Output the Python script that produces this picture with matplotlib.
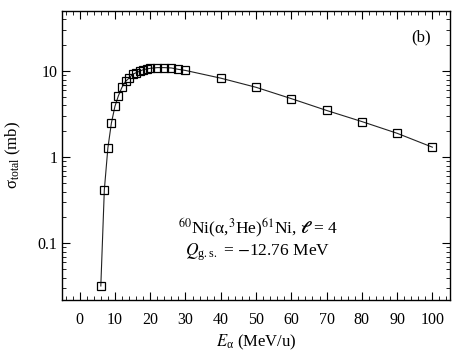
import numpy as np
import matplotlib
matplotlib.use("Agg")
import matplotlib.pyplot as plt
from matplotlib.ticker import LogLocator, MultipleLocator, FixedFormatter, FixedLocator

plt.rcParams['font.family'] = ['Liberation Serif', 'DejaVu Serif']
plt.rcParams['mathtext.fontset'] = 'stix'

energy = [6, 7, 8, 9, 10, 11, 12, 13, 14, 15, 16, 17, 18, 19, 20,
          22, 24, 26, 28, 30, 40, 50, 60, 70, 80, 90, 100]
sigma = [0.032, 0.42, 1.28, 2.5, 3.9, 5.2, 6.5, 7.6, 8.3, 9.2, 9.6, 10.0, 10.4, 10.6, 10.8,
         11.0, 11.0, 10.9, 10.5, 10.2, 8.3, 6.5, 4.8, 3.5, 2.6, 1.9, 1.31]
x_ticks = [0, 10, 20, 30, 40, 50, 60, 70, 80, 90, 100]
y_ticks = [0.1, 1, 10]
y_tick_labels = ['0.1', '1', '10']

fig = plt.figure(figsize=(4.57, 3.62), dpi=100)
ax = fig.add_axes([0.1357, 0.1713, 0.849, 0.7983])

ax.plot(energy, sigma, color='#222222', lw=0.8, marker='s', ms=6.3,
        mfc='none', mec='black', mew=0.9)

ax.set_yscale('log')
ax.set_xlim(-5, 105)
ax.set_ylim(0.022, 50)

ax.xaxis.set_major_locator(FixedLocator(x_ticks))
ax.xaxis.set_minor_locator(MultipleLocator(2))
ax.yaxis.set_major_locator(FixedLocator(y_ticks))
ax.yaxis.set_major_formatter(FixedFormatter(y_tick_labels))
ax.yaxis.set_minor_locator(LogLocator(base=10, subs=np.arange(2, 10)))
ax.yaxis.set_minor_formatter(plt.NullFormatter())

ax.tick_params(which='both', direction='in', top=True, right=True, labelsize=11.5)
ax.tick_params(which='major', length=6, width=0.8)
ax.tick_params(which='minor', length=3, width=0.6)
ax.tick_params(axis='x', pad=9)
for s in ax.spines.values():
    s.set_linewidth(1.0)

ax.set_xlabel(r'$E_{\mathregular{α}}$ (MeV/u)', fontsize=12, labelpad=3)
ax.set_ylabel(r'$\mathregular{σ_{total}}$ (mb)', fontsize=12, labelpad=10)

ax.text(0.925, 0.91, '(b)', transform=ax.transAxes, ha='center', va='center', fontsize=12)
ax.text(50.5, 0.149, r'$^{60}$Ni(α,$^{3}$He)$^{61}$Ni, $\boldsymbol{\ell}$ = 4',
        ha='center', va='center', fontsize=12.5)
ax.text(50.5, 0.079, r'$Q_{\mathregular{g.s.}}$ = $-$12.76 MeV',
        ha='center', va='center', fontsize=12.5)

fig.savefig('out.png', dpi=100)
